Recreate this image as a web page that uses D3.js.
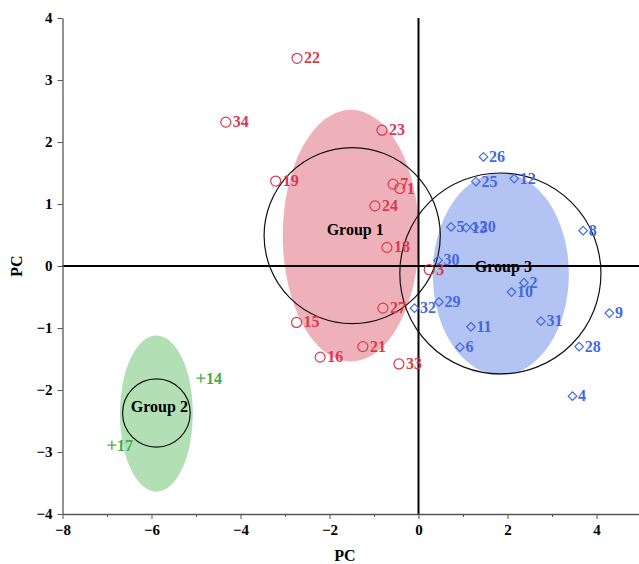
<!DOCTYPE html>
<html>
<head>
<meta charset="utf-8">
<script src="https://cdn.jsdelivr.net/npm/d3@7/dist/d3.min.js"></script>
<style>
  html, body { margin: 0; padding: 0; background: #fff; }
  svg { display: block; }
  text { font-family: "Liberation Serif", "Times New Roman", serif !important; font-weight: bold; }
</style>
</head>
<body>
<svg id="chart" width="639" height="564"></svg>
<script>
// ---- Data ----
const group1Labels = ["22","34","23","19","7","1","24","18","3","27","15","21","16","33"];
const group1X = [-2.73,-4.33,-0.82,-3.21,-0.57,-0.42,-0.98,-0.71,0.24,-0.80,-2.74,-1.25,-2.21,-0.44];
const group1Y = [3.35,2.32,2.19,1.37,1.32,1.25,0.97,0.30,-0.06,-0.68,-0.91,-1.30,-1.47,-1.58];

const group3Labels = ["26","25","12","5","13","20","8","30","2","10","29","32","11","31","9","6","28","4"];
const group3X = [1.46,1.29,2.15,0.73,1.07,1.25,3.70,0.44,2.37,2.09,0.46,-0.09,1.18,2.75,4.29,0.93,3.61,3.46];
const group3Y = [1.76,1.36,1.41,0.63,0.62,0.63,0.57,0.09,-0.27,-0.42,-0.58,-0.68,-0.98,-0.89,-0.76,-1.31,-1.30,-2.10];

const group2Labels = ["14","17"];
const group2X = [-4.89,-6.89];
const group2Y = [-1.81,-2.89];

// group ellipses (confidence region) and circles, in data units
const groupNames = ["Group 1","Group 2","Group 3"];
const ellipseCX = [-1.52,-5.89,1.85];
const ellipseCY = [0.49,-2.38,-0.13];
const ellipseRX = [1.53,0.82,1.53];
const ellipseRY = [2.03,1.26,1.63];
const circleCX = [-1.49,-5.89,1.84];
const circleCY = [0.49,-2.37,-0.12];
const circleRX = [1.98,0.76,2.26];
const circleRY = [1.42,0.55,1.62];

const xMajorTicks = [-8,-6,-4,-2,0,2,4];
const xMinorTicks = [-7,-5,-3,-1,1,3];
const yTicks = [-4,-3,-2,-1,0,1,2,3,4];
const xTitle = "PC";
const yTitle = "PC";

// ---- Styles ----
const red = "#d8394f", blue = "#4169e1", green = "#3fae44";
const fills = ["rgba(214,60,80,0.4)", "rgba(64,175,68,0.4)", "rgba(65,105,225,0.4)"];
const FONT = '"Liberation Serif", "Times New Roman", serif';

const svg = d3.select("#chart");
const x = d3.scaleLinear().domain([-8, 5]).range([62.5, 641]);
const y = d3.scaleLinear().domain([-4, 4]).range([514, 18]);

// ellipses
const gIdx = d3.range(groupNames.length);
svg.append("g").selectAll("ellipse").data(gIdx).join("ellipse")
  .attr("cx", i => x(ellipseCX[i]))
  .attr("cy", i => y(ellipseCY[i]))
  .attr("rx", i => x(ellipseRX[i]) - x(0))
  .attr("ry", i => y(0) - y(ellipseRY[i]))
  .attr("fill", i => fills[i]);

// zero lines
svg.append("line").attr("x1", x(-8)).attr("x2", 639).attr("y1", y(0)).attr("y2", y(0))
  .attr("stroke", "#000").attr("stroke-width", 2);
svg.append("line").attr("x1", x(0)).attr("x2", x(0)).attr("y1", y(4)).attr("y2", y(-4))
  .attr("stroke", "#000").attr("stroke-width", 2);

// circles
svg.append("g").selectAll("ellipse").data(gIdx).join("ellipse")
  .attr("cx", i => x(circleCX[i]))
  .attr("cy", i => y(circleCY[i]))
  .attr("rx", i => x(circleRX[i]) - x(0))
  .attr("ry", i => y(0) - y(circleRY[i]))
  .attr("fill", "none").attr("stroke", "#111").attr("stroke-width", 1.2);

// axes
svg.append("g").attr("transform", `translate(0,${y(-4)})`)
  .call(d3.axisBottom(x).tickValues(xMajorTicks).tickFormat(d3.format("d")).tickSize(5).tickSizeOuter(0).tickPadding(5));
svg.append("g").attr("transform", `translate(0,${y(-4)})`)
  .call(d3.axisBottom(x).tickValues(xMinorTicks).tickFormat("").tickSize(3).tickSizeOuter(0))
  .select(".domain").remove();
svg.append("g").attr("transform", `translate(${x(-8)},0)`)
  .call(d3.axisLeft(y).tickValues(yTicks).tickFormat(d3.format("d")).tickSize(5).tickSizeOuter(0).tickPadding(5));
svg.selectAll("g[font-family]").attr("font-family", FONT).attr("font-size", 15).attr("font-weight", "bold");
svg.selectAll(".domain").attr("stroke", "#555").attr("stroke-width", 1.3);
svg.selectAll(".tick line").attr("stroke", "#555");
svg.selectAll(".tick text").attr("font-size", 15).attr("fill", "#000")
  .attr("font-family", FONT).attr("font-weight", "bold");

// axis titles
svg.append("text").attr("x", 345).attr("y", 561).attr("text-anchor", "middle")
  .attr("font-size", 16).text(xTitle);
svg.append("text").attr("transform", `translate(22,${y(0)}) rotate(-90)`).attr("text-anchor", "middle")
  .attr("font-size", 16).text(yTitle);

// group labels
svg.append("g").selectAll("text").data(gIdx).join("text")
  .attr("x", i => x(circleCX[i]) + 3)
  .attr("y", i => y(circleCY[i]) - 1)
  .attr("text-anchor", "middle").attr("font-size", 16).attr("fill", "#000")
  .text(i => groupNames[i]);

// group 1 points (circles)
const g1 = svg.append("g");
g1.selectAll("circle").data(group1Labels).join("circle")
  .attr("cx", (d, i) => x(group1X[i])).attr("cy", (d, i) => y(group1Y[i])).attr("r", 5)
  .attr("fill", "none").attr("stroke", red).attr("stroke-width", 1.2);
g1.selectAll("text").data(group1Labels).join("text")
  .attr("x", (d, i) => x(group1X[i]) + 7).attr("y", (d, i) => y(group1Y[i]) + 5)
  .attr("font-size", 16).attr("fill", red).text(d => d);

// group 3 points (diamonds)
const g3 = svg.append("g");
g3.selectAll("path").data(group3Labels).join("path")
  .attr("transform", (d, i) => `translate(${x(group3X[i])},${y(group3Y[i])})`)
  .attr("d", "M0,-4.3L4.3,0L0,4.3L-4.3,0Z")
  .attr("fill", "none").attr("stroke", blue).attr("stroke-width", 1.2);
g3.selectAll("text").data(group3Labels).join("text")
  .attr("x", (d, i) => x(group3X[i]) + 5.5).attr("y", (d, i) => y(group3Y[i]) + 5)
  .attr("font-size", 16).attr("fill", blue).text(d => d);

// group 2 points (plus)
const g2 = svg.append("g");
g2.selectAll("path").data(group2Labels).join("path")
  .attr("transform", (d, i) => `translate(${x(group2X[i])},${y(group2Y[i])})`)
  .attr("d", "M-4.5,0H4.5M0,-4.5V4.5")
  .attr("fill", "none").attr("stroke", green).attr("stroke-width", 1.3);
g2.selectAll("text").data(group2Labels).join("text")
  .attr("x", (d, i) => x(group2X[i]) + 5).attr("y", (d, i) => y(group2Y[i]) + 5.5)
  .attr("font-size", 16).attr("fill", green).text(d => d);
</script>
</body>
</html>
